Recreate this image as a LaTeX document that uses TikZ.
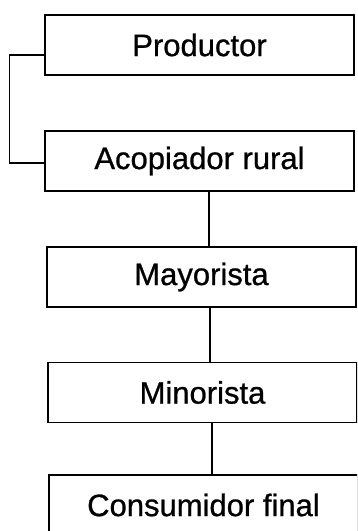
\documentclass[tikz,border=0pt]{standalone}
\usepackage{fontspec}
\setmainfont{Liberation Sans}
\newfontfamily\boxfont[FakeBold=0.8]{Liberation Sans}
\usepackage{tikz}

\begin{document}
\begin{tikzpicture}[x=1pt, y=1pt,
	box/.style={draw=black, line width=1.3pt, minimum width=309pt, minimum height=60pt, inner sep=0pt, font=\boxfont\fontsize{31}{36}\selectfont},
	link/.style={draw=black, line width=1.3pt}]
	\useasboundingbox (0,0) rectangle (357,-531);
	\clip (0,0) rectangle (357,-531);

	\node[box] (prod) at (199.5,-45) {Productor};
	\node[box] (acop) at (199.5,-161) {Acopiador rural};
	\node[box] (mayor) at (201.5,-277) {Mayorista};
	\node[box] (minor) at (202.5,-392.5) {Minorista};
	\node[box] (cons) at (203.5,-505) {Consumidor final};

	\draw[link] ([yshift=-10pt]prod.west) -- ++(-35,0) |- ([yshift=-2pt]acop.west);
	\draw[link] (acop.south -| 209,0) -- (mayor.north -| 209,0);
	\draw[link] (mayor.south -| 210,0) -- (minor.north -| 210,0);
	\draw[link] (minor.south -| 212,0) -- (cons.north -| 212,0);
\end{tikzpicture}
\end{document}
